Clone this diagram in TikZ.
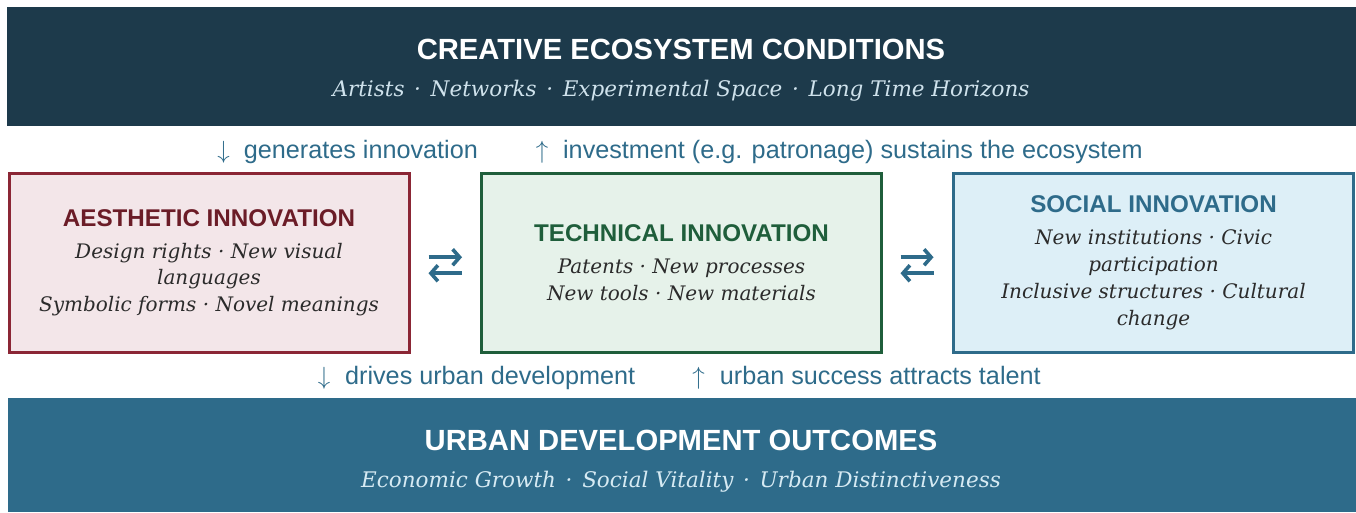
\documentclass[tikz,border=0pt]{standalone}
\usepackage{fontspec}
\usetikzlibrary{arrows.meta}
\setmainfont{DejaVu Serif}
\newfontfamily\labelsans{Liberation Sans}

\definecolor{topband}{HTML}{1D3A4B}
\definecolor{botband}{HTML}{2E6B8A}
\definecolor{subtop}{HTML}{CFE2EC}
\definecolor{subbot}{HTML}{D6EAF3}
\definecolor{flowblue}{HTML}{2E6B8A}
\definecolor{bodytext}{HTML}{2B2B2B}
\definecolor{aesline}{HTML}{8B2635}
\definecolor{aestitle}{HTML}{6B1C27}
\definecolor{aesfill}{HTML}{F3E6E9}
\definecolor{techline}{HTML}{1F5E3B}
\definecolor{techfill}{HTML}{E6F2EA}
\definecolor{socline}{HTML}{2E6B8A}
\definecolor{socfill}{HTML}{DDEFF7}

\newcommand\bandtitle{\labelsans\bfseries\upshape\fontsize{29.2}{33}\selectfont}
\newcommand\bandsub{\itshape\fontsize{21.5}{26}\selectfont}
\newcommand\boxtitle{\labelsans\bfseries\upshape\fontsize{24.2}{28}\selectfont}
\newcommand\boxbody{\itshape\fontsize{20}{26.8}\selectfont}
\newcommand\midsep{\hspace{0.45em}·\hspace{0.45em}}
\newcommand\flowdown{$\downarrow$}
\newcommand\flowup{$\uparrow$}

\tikzset{
  band/.style={fill=#1, draw=none},
  pillar/.style={draw=#1line, fill=#1fill, line width=3pt, minimum width=400pt,
    minimum height=179pt, inner sep=0pt, align=center, text=bodytext, font=\boxbody},
  flowlabel/.style={text=flowblue, font=\labelsans\fontsize{25.2}{30}\selectfont,
    inner sep=0pt, anchor=base west},
  swaparrow/.style={draw=flowblue, line width=3.6pt, arrows={-Straight Barb[length=7pt,width=16pt]}}
}

\begin{document}
\begin{tikzpicture}[x=1pt,y=-1pt]
\useasboundingbox (0,0) rectangle (1356,512);

% ecosystem band
\fill[band=topband] (7,7) rectangle (1356,126);
\node[text=white, font=\bandtitle, anchor=base, inner sep=0pt] (ecotitle) at (681,59) {CREATIVE ECOSYSTEM CONDITIONS};
\node[text=subtop, font=\bandsub, anchor=base, inner sep=0pt] (ecosub) at (681,96)
  {Artists\midsep Networks\midsep Experimental Space\midsep Long Time Horizons};

% flows between ecosystem and innovation
\node[flowlabel] (gen) at (217.25,158) {\flowdown\hspace{14pt}generates innovation};
\node[flowlabel] (inv) at (535.75,158) {\flowup\hspace{14.75pt}investment (e.g. patronage) sustains the ecosystem};

% three kinds of innovation
\node[pillar=aes] (aes) at (209,262.75)
  {{\boxtitle\color{aestitle}AESTHETIC INNOVATION}\\[5pt]
   Design rights · New visual\\languages\\Symbolic forms · Novel meanings};
\node[pillar=tech] (tech) at (681.5,262.75)
  {{\boxtitle\color{techline}TECHNICAL INNOVATION}\\[5pt]
   Patents · New processes\\New tools · New materials};
\node[pillar=soc] (soc) at (1153.5,262.75)
  {{\boxtitle\color{socline}SOCIAL INNOVATION}\\[5pt]
   New institutions · Civic\\participation\\Inclusive structures · Cultural\\change};

% two-way exchange between neighbours
\draw[swaparrow, shorten <=18pt, shorten >=18pt] ([yshift=5.5pt]aes.east) -- ([yshift=5.5pt]tech.west);
\draw[swaparrow, shorten <=18pt, shorten >=18pt] ([yshift=-10.5pt]tech.west) -- ([yshift=-10.5pt]aes.east);
\draw[swaparrow, shorten <=17.5pt, shorten >=18.5pt] ([yshift=5.5pt]tech.east) -- ([yshift=5.5pt]soc.west);
\draw[swaparrow, shorten <=18.5pt, shorten >=17.5pt] ([yshift=-10.5pt]soc.west) -- ([yshift=-10.5pt]tech.east);

% flows between innovation and the city
\node[flowlabel] (drv) at (317.75,384) {\flowdown\hspace{14.75pt}drives urban development};
\node[flowlabel] (att) at (692.25,384) {\flowup\hspace{15pt}urban success attracts talent};

% outcomes band
\fill[band=botband] (8,398) rectangle (1356,512);
\node[text=white, font=\bandtitle, anchor=base, inner sep=0pt] (urbtitle) at (681,450) {URBAN DEVELOPMENT OUTCOMES};
\node[text=subbot, font=\bandsub, anchor=base, inner sep=0pt] (urbsub) at (681,487)
  {Economic Growth\midsep Social Vitality\midsep Urban Distinctiveness};
\end{tikzpicture}
\end{document}
